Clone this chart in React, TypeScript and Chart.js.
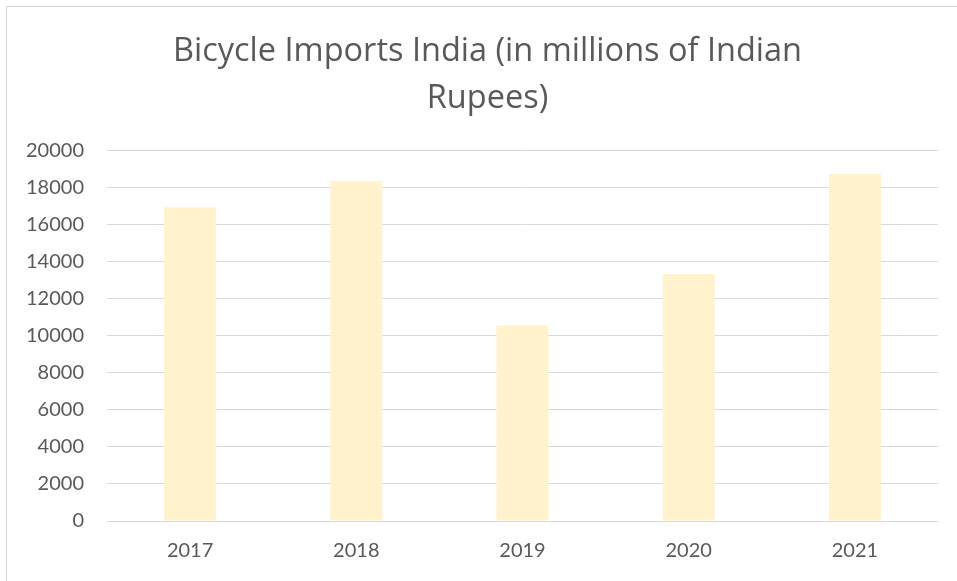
import React, { useEffect, useRef } from "react";
import { Chart, registerables } from "chart.js";

Chart.register(...registerables);

const categories = ["2017", "2018", "2019", "2020", "2021"];
const imports = [16920, 18340, 10550, 13320, 18720];
const titleLines = ["Bicycle Imports India (in millions of Indian", "Rupees)"];
const yMin = 0;
const yMax = 20000;
const yStep = 2000;

export default function App() {
  const ref = useRef<HTMLCanvasElement | null>(null);
  useEffect(() => {
    if (!ref.current) return;
    const chart = new Chart(ref.current, {
      type: "bar",
      data: {
        labels: categories,
        datasets: [
          {
            data: imports,
            backgroundColor: "#FFF2CC",
            borderWidth: 0,
            barPercentage: 0.313,
            categoryPercentage: 1,
          },
        ],
      },
      options: {
        responsive: false,
        animation: false,
        layout: { padding: { left: 0, right: 0, top: 0, bottom: 0 } },
        plugins: {
          legend: { display: false },
          tooltip: { enabled: false },
          title: {
            display: true,
            text: titleLines,
            color: "#595959",
            font: { family: "Open Sans", size: 32.5, weight: "normal", lineHeight: 1.45 },
            padding: { top: 21.5, bottom: 27.5 },
          },
        },
        scales: {
          x: {
            grid: { display: false, drawTicks: false },
            border: { display: false },
            ticks: {
              color: "#595959",
              font: { family: "Lato", size: 20 },
              padding: 18,
              maxRotation: 0,
            },
          },
          y: {
            min: yMin,
            max: yMax,
            grid: { color: "#d9d9d9", lineWidth: 1, drawTicks: false },
            border: { display: false },
            ticks: {
              stepSize: yStep,
              color: "#595959",
              font: { family: "Lato", size: 20 },
              padding: 23,
              callback: (v: any) => String(v),
            },
            afterFit: (scale: any) => {
              scale.width = 100;
            },
          },
          yRight: {
            type: "linear",
            position: "right",
            display: true,
            min: yMin,
            max: yMax,
            grid: { display: false, drawTicks: false },
            border: { display: false },
            ticks: { display: false },
            afterFit: (scale: any) => {
              scale.width = 30;
            },
          },
        },
      },
    });
    return () => chart.destroy();
  }, []);
  return (
    <div
      style={{
        position: "fixed",
        left: 6,
        top: 6,
        width: 951,
        height: 575,
        overflow: "hidden",
      }}
    >
      <div
        style={{
          width: 961,
          height: 574,
          borderLeft: "1px solid #d9d9d9",
          borderTop: "1px solid #d9d9d9",
          background: "#fff",
        }}
      >
        <canvas ref={ref} width={961} height={574} style={{ display: "block", width: 961, height: 574 }} />
      </div>
    </div>
  );
}
